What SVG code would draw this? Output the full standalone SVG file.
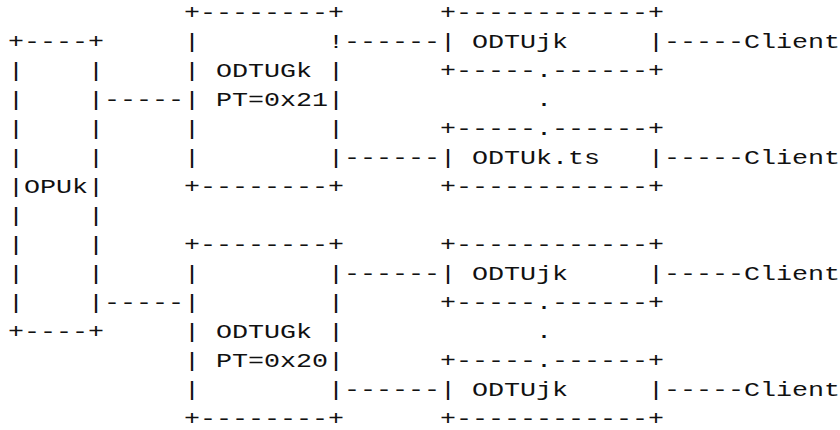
<svg xmlns="http://www.w3.org/2000/svg" width="840" height="430" viewBox="0 0 840 430">
<style>
.t{font-family:"Liberation Mono","Courier New",monospace;font-size:20px;fill:#111;white-space:pre}
</style>
<rect width="840" height="430" fill="#fff"/>
<g transform="scale(1.333333,1)" xml:space="preserve">
<g id="opuk">
<text class="t" x="6" y="47.6">+----+</text>
<text class="t" x="6" y="76.6">|    |</text>
<text class="t" x="6" y="105.6">|    |</text>
<text class="t" x="6" y="134.6">|    |</text>
<text class="t" x="6" y="163.6">|    |</text>
<text class="t" x="6" y="192.6">|OPUk|</text>
<text class="t" x="6" y="221.6">|    |</text>
<text class="t" x="6" y="250.6">|    |</text>
<text class="t" x="6" y="279.6">|    |</text>
<text class="t" x="6" y="308.6">|    |</text>
<text class="t" x="6" y="337.6">+----+</text>
</g>
<g id="odtugk21">
<text class="t" x="138" y="18.6">+--------+</text>
<text class="t" x="138" y="47.6">|        !</text>
<text class="t" x="138" y="76.6">| ODTUGk |</text>
<text class="t" x="138" y="105.6">| PT=0x21|</text>
<text class="t" x="138" y="134.6">|        |</text>
<text class="t" x="138" y="163.6">|        |</text>
<text class="t" x="138" y="192.6">+--------+</text>
</g>
<g id="odtugk20">
<text class="t" x="138" y="250.6">+--------+</text>
<text class="t" x="138" y="279.6">|        |</text>
<text class="t" x="138" y="308.6">|        |</text>
<text class="t" x="138" y="337.6">| ODTUGk |</text>
<text class="t" x="138" y="366.6">| PT=0x20|</text>
<text class="t" x="138" y="395.6">|        |</text>
<text class="t" x="138" y="424.6">+--------+</text>
</g>
<g id="odtujk1">
<text class="t" x="330" y="18.6">+------------+</text>
<text class="t" x="330" y="47.6">| ODTUjk     |</text>
<text class="t" x="330" y="76.6">+-----.------+</text>
</g>
<g id="odtukts">
<text class="t" x="330" y="134.6">+-----.------+</text>
<text class="t" x="330" y="163.6">| ODTUk.ts   |</text>
<text class="t" x="330" y="192.6">+------------+</text>
</g>
<g id="odtujk2">
<text class="t" x="330" y="250.6">+------------+</text>
<text class="t" x="330" y="279.6">| ODTUjk     |</text>
<text class="t" x="330" y="308.6">+-----.------+</text>
</g>
<g id="odtujk3">
<text class="t" x="330" y="366.6">+-----.------+</text>
<text class="t" x="330" y="395.6">| ODTUjk     |</text>
<text class="t" x="330" y="424.6">+------------+</text>
</g>
<g id="dots">
<text class="t" x="402" y="105.6">.</text>
<text class="t" x="402" y="337.6">.</text>
</g>
<g id="clients">
<text class="t" x="558" y="47.6">Client</text>
<text class="t" x="558" y="163.6">Client</text>
<text class="t" x="558" y="279.6">Client</text>
<text class="t" x="558" y="395.6">Client</text>
</g>
<g id="connectors">
<text class="t" x="78" y="105.6">-----</text>
<text class="t" x="78" y="308.6">-----</text>
<text class="t" x="258" y="47.6">------</text>
<text class="t" x="258" y="163.6">------</text>
<text class="t" x="258" y="279.6">------</text>
<text class="t" x="258" y="395.6">------</text>
<text class="t" x="498" y="47.6">-----</text>
<text class="t" x="498" y="163.6">-----</text>
<text class="t" x="498" y="279.6">-----</text>
<text class="t" x="498" y="395.6">-----</text>
</g>
</g>
</svg>
